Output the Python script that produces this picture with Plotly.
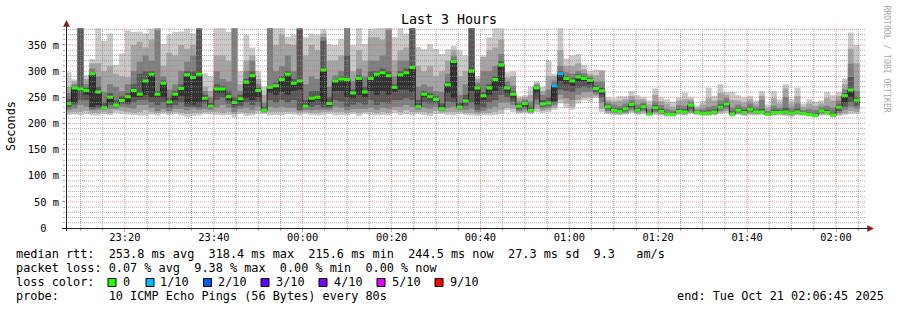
import datetime as dt
import plotly.graph_objects as go

# ---------------- data ----------------
median = [
    238, 268, 266, 263, 295, 260, 230, 250, 235, 244,
    251, 263, 256, 281, 294, 256, 277, 241, 256, 267,
    293, 288, 294, 248, 233, 266, 266, 251, 240, 247,
    279, 291, 263, 225, 269, 272, 284, 294, 277, 281,
    233, 248, 250, 302, 238, 281, 285, 284, 258, 286,
    260, 286, 294, 297, 291, 269, 293, 297, 307, 232,
    256, 251, 246, 228, 274, 318.4, 231, 243, 300, 268,
    253, 268, 284, 312, 268, 256, 233, 238, 225, 268,
    237, 239, 272, 295, 286, 281, 289, 286, 282, 267,
    262, 232, 225, 223, 228, 236, 225, 232, 218, 230,
    223, 218, 217, 223, 222, 235, 221, 219, 220, 222,
    231, 237, 218, 225, 221, 227, 222, 222, 217, 221,
    221, 222, 220, 222, 219, 217, 215.6, 224, 221, 216,
    231, 253, 264, 244.5,
]

loss = [
    0, 0, 0, 0, 0, 0, 0, 0, 0, 0,
    0, 0, 0, 0, 0, 0, 0, 0, 0, 0,
    0, 0, 0, 0, 0, 0, 0, 0, 0, 0,
    0, 0, 0, 0, 0, 0, 0, 0, 0, 0,
    0, 0, 0, 0, 0, 0, 0, 0, 0, 0,
    0, 0, 0, 0, 0, 0, 0, 0, 0, 0,
    0, 0, 0, 0, 0, 0, 0, 0, 0, 0,
    0, 0, 0, 0, 0, 0, 0, 0, 0, 0,
    0, 0, 1, 1, 0, 0, 0, 0, 0, 0,
    0, 0, 0, 0, 0, 0, 0, 0, 0, 0,
    0, 0, 0, 0, 0, 0, 0, 0, 0, 0,
    0, 0, 0, 0, 0, 0, 0, 0, 0, 0,
    0, 0, 0, 0, 0, 0, 0, 0, 0, 0,
    0, 0, 0, 0,
]

# sorted ping values (ping 1 = fastest ... ping 10 = slowest), ms
p1 = [
    216, 217, 216, 218, 215, 215, 218, 216, 220, 218,
    217, 216, 215, 215, 217, 215, 218, 216, 218, 215,
    213, 214, 215, 218, 217, 216, 215, 216, 212, 218,
    214, 215, 218, 218, 215, 216, 215, 218, 217, 215,
    218, 216, 215, 216, 218, 215, 216, 215, 218, 214,
    218, 216, 215, 216, 215, 220, 216, 218, 215, 218,
    216, 214, 218, 218, 216, 215, 218, 216, 215, 214,
    216, 215, 216, 218, 225, 222, 219, 220, 218, 222,
    220, 222, 226, 238, 230, 226, 238, 244, 242, 248,
    222, 218, 216, 216, 217, 220, 216, 218, 214, 216,
    215, 213, 213, 216, 215, 218, 216, 214, 214, 215,
    218, 220, 213, 216, 214, 215, 215, 216, 214, 214,
    215, 214, 213, 215, 214, 213, 212, 215, 215, 212,
    214, 216, 218, 218,
]
p2 = [
    221, 222, 222, 224, 220, 220, 222, 220, 225, 224,
    222, 220, 222, 225, 222, 220, 222, 220, 222, 220,
    218, 220, 220, 222, 222, 222, 220, 222, 218, 222,
    220, 220, 224, 220, 222, 222, 222, 222, 222, 220,
    222, 220, 220, 222, 222, 222, 222, 220, 222, 220,
    222, 222, 220, 222, 220, 225, 222, 225, 222, 222,
    222, 220, 224, 221, 222, 222, 222, 220, 220, 218,
    220, 220, 222, 225, 230, 228, 221, 222, 220, 228,
    224, 226, 230, 245, 238, 232, 245, 250, 250, 252,
    228, 220, 219, 218, 219, 223, 219, 221, 216, 219,
    217, 215, 215, 218, 217, 220, 218, 216, 216, 217,
    221, 224, 215, 218, 216, 218, 217, 218, 215, 216,
    217, 216, 215, 217, 216, 214, 213, 217, 217, 213,
    217, 220, 224, 222,
]
p3 = [
    226, 228, 235, 232, 225, 226, 226, 228, 228, 232,
    230, 228, 235, 235, 230, 224, 228, 224, 228, 228,
    225, 228, 226, 228, 226, 230, 235, 230, 222, 228,
    230, 226, 232, 222, 232, 230, 232, 230, 230, 224,
    226, 225, 226, 226, 226, 232, 230, 225, 228, 228,
    228, 230, 226, 230, 228, 232, 232, 235, 232, 226,
    230, 228, 232, 224, 230, 232, 226, 226, 228, 222,
    224, 228, 232, 240, 240, 235, 224, 226, 222, 236,
    228, 230, 235, 255, 248, 245, 255, 260, 260, 256,
    240, 224, 221, 220, 221, 226, 221, 224, 217, 222,
    219, 216, 216, 220, 219, 223, 219, 217, 218, 219,
    224, 228, 216, 220, 218, 221, 219, 220, 216, 218,
    219, 218, 217, 219, 217, 215, 214, 219, 219, 214,
    220, 226, 232, 228,
]
p4 = [
    232, 236, 245, 245, 228, 230, 228, 235, 231, 238,
    236, 240, 245, 245, 240, 235, 240, 230, 235, 240,
    232, 232, 230, 238, 229, 245, 250, 238, 230, 234,
    240, 235, 240, 223, 245, 240, 245, 240, 245, 226,
    229, 232, 235, 230, 230, 245, 242, 232, 236, 240,
    236, 245, 235, 240, 238, 245, 245, 248, 245, 229,
    240, 238, 238, 226, 242, 240, 229, 234, 240, 226,
    230, 240, 245, 255, 250, 242, 227, 230, 223, 246,
    232, 234, 240, 265, 262, 260, 268, 270, 268, 260,
    250, 227, 223, 221, 224, 230, 223, 227, 218, 225,
    221, 217, 216, 221, 220, 227, 220, 218, 219, 221,
    227, 232, 217, 222, 220, 224, 221, 221, 216, 220,
    220, 220, 219, 221, 218, 216, 215, 221, 220, 215,
    224, 232, 240, 234,
]
p5 = [
    236, 240, 262, 255, 232, 235, 229, 240, 233, 240,
    240, 250, 250, 255, 250, 250, 250, 236, 245, 252,
    238, 236, 240, 244, 231, 258, 258, 245, 236, 240,
    248, 245, 250, 224, 258, 255, 260, 255, 262, 265,
    231, 240, 245, 238, 234, 262, 262, 250, 248, 255,
    250, 262, 255, 262, 255, 260, 265, 265, 260, 231,
    250, 246, 242, 227, 258, 248, 230, 240, 262, 236,
    245, 255, 262, 270, 258, 248, 230, 234, 224, 258,
    235, 237, 243, 280, 276, 272, 280, 280, 276, 264,
    256, 230, 224, 222, 226, 233, 224, 230, 218, 228,
    222, 218, 217, 222, 221, 232, 221, 219, 220, 222,
    229, 235, 218, 224, 221, 226, 222, 222, 217, 221,
    221, 221, 220, 222, 219, 217, 215.6, 223, 221, 216,
    228, 240, 250, 240,
]
p6 = [
    240, 268, 266, 263, 294, 260, 231, 250, 236, 245,
    251, 263, 256, 281, 294, 256, 277, 241, 256, 267,
    293, 288, 294, 248, 233, 266, 266, 251, 240, 247,
    279, 291, 263, 226, 269, 272, 284, 294, 277, 281,
    234, 248, 250, 302, 238, 281, 285, 284, 258, 286,
    260, 286, 294, 297, 291, 269, 293, 297, 307, 233,
    256, 251, 246, 229, 274, 318, 232, 243, 300, 268,
    253, 268, 284, 312, 268, 256, 233, 238, 226, 268,
    238, 240, 272, 295, 286, 281, 289, 286, 282, 267,
    262, 232, 226, 224, 228, 236, 226, 232, 219, 230,
    224, 219, 218, 224, 223, 235, 222, 220, 221, 223,
    231, 237, 219, 226, 222, 228, 223, 223, 218, 222,
    222, 223, 221, 223, 220, 218, 217, 225, 222, 217,
    231, 253, 264, 244.5,
]
p7 = [
    247, 271, 382, 268, 298, 270, 240, 258, 245, 252,
    258, 275, 295, 300, 300, 262, 282, 250, 262, 275,
    300, 300, 380, 255, 240, 275, 272, 262, 250, 255,
    285, 300, 268, 232, 272, 278, 290, 300, 285, 380,
    245, 262, 262, 358, 250, 285, 290, 330, 265, 292,
    270, 300, 300, 305, 300, 275, 300, 305, 382, 245,
    262, 258, 252, 238, 280, 322, 240, 255, 382, 272,
    260, 275, 290, 320, 272, 262, 237, 242, 232, 271,
    245, 250, 276, 300, 290, 286, 294, 290, 286, 272,
    268, 236, 230, 228, 232, 240, 230, 236, 222, 235,
    228, 222, 221, 228, 227, 238, 224, 223, 225, 227,
    236, 242, 223, 230, 226, 232, 226, 228, 220, 226,
    225, 230, 224, 228, 222, 221, 220, 228, 226, 221,
    236, 258, 289, 250,
]
p8 = [
    258, 275, 382, 275, 305, 290, 260, 275, 270, 262,
    275, 300, 318, 330, 320, 378, 290, 265, 275, 300,
    318, 330, 382, 262, 250, 300, 285, 280, 382, 262,
    300, 320, 275, 240, 382, 300, 310, 330, 300, 382,
    275, 290, 285, 365, 270, 292, 300, 382, 280, 305,
    290, 320, 320, 330, 378, 290, 320, 320, 382, 270,
    275, 270, 262, 260, 295, 330, 255, 275, 382, 278,
    300, 300, 310, 333, 280, 272, 242, 246, 242, 274,
    255, 265, 282, 310, 298, 295, 300, 296, 290, 280,
    280, 240, 236, 234, 238, 245, 236, 240, 228, 242,
    235, 228, 225, 235, 234, 242, 226, 228, 232, 234,
    244, 248, 230, 236, 232, 238, 232, 245, 224, 234,
    230, 250, 230, 238, 226, 228, 226, 232, 234, 230,
    244, 265, 314, 262,
]
p9 = [
    270, 279, 382, 285, 315, 315, 300, 310, 295, 290,
    289, 350, 356, 345, 360, 382, 310, 335, 330, 350,
    343, 350, 382, 270, 262, 330, 330, 320, 382, 275,
    320, 330, 285, 255, 382, 350, 370, 352, 350, 382,
    330, 350, 340, 372, 320, 320, 330, 382, 300, 340,
    320, 365, 365, 360, 382, 320, 340, 345, 382, 310,
    300, 310, 290, 300, 320, 340, 290, 300, 382, 285,
    327, 340, 345, 360, 288, 290, 248, 250, 255, 277,
    262, 290, 290, 340, 310, 310, 315, 303, 294, 292,
    300, 245, 242, 244, 246, 252, 246, 246, 236, 255,
    243, 238, 232, 244, 246, 246, 230, 236, 248, 244,
    258, 255, 245, 244, 240, 246, 238, 253, 230, 248,
    238, 267, 238, 252, 232, 238, 234, 238, 248, 244,
    252, 275, 343, 315,
]
p10 = [
    298, 284, 382, 292, 323, 382, 358, 372, 312, 334,
    378, 375, 376, 372, 381, 382, 352, 370, 375, 376,
    381, 372, 382, 296, 290, 382, 382, 375, 382, 300,
    370, 345, 300, 270, 382, 382, 382, 366, 370, 382,
    365, 372, 370, 380, 352, 350, 362, 382, 350, 382,
    352, 380, 382, 382, 382, 365, 382, 372, 382, 346,
    342, 352, 342, 333, 342, 348, 340, 330, 382, 290,
    330, 365, 382, 382, 298, 300, 252, 254, 270, 280,
    270, 320, 295, 382, 324, 330, 333, 312, 300, 303,
    302, 250, 248, 252, 252, 262, 254, 250, 244, 267,
    250, 246, 242, 250, 259, 250, 234, 244, 268, 253,
    275, 260, 260, 254, 250, 253, 244, 262, 236, 262,
    246, 275, 246, 268, 238, 246, 242, 244, 260, 254,
    260, 286, 374, 350,
]

y_ticks = [0, 50, 100, 150, 200, 250, 300, 350]
y_tick_text = ["0\u00a0\u00a0", "50 m", "100 m", "150 m", "200 m", "250 m", "300 m", "350 m"]

legend_rtt = "median rtt:  253.8 ms avg  318.4 ms max  215.6 ms min  244.5 ms now  27.3 ms sd  9.3   am/s"
legend_loss = "packet loss: 0.07 % avg  9.38 % max  0.00 % min  0.00 % now"
legend_probe = "probe:       10 ICMP Echo Pings (56 Bytes) every 80s"
legend_end = "end: Tue Oct 21 02:06:45 2025"
loss_levels = [0, 1, 2, 3, 4, 5, 9]
loss_labels = ["0", "1/10", "2/10", "3/10", "4/10", "5/10", "9/10"]
loss_colors = ["#26ff00", "#00b8ff", "#0059ff", "#5e00ff", "#7e00ff", "#dd00ff", "#ff0000"]

# ---------------- geometry ----------------
W, H = 897, 310
L, R, T, B = 66, 31, 28, 82
PW, PH = W - L - R, H - T - B
Y_MAX = 382.5
t_start = dt.datetime(2025, 10, 20, 23, 6, 45)
t_end = dt.datetime(2025, 10, 21, 2, 6, 45)
t_first = dt.datetime(2025, 10, 20, 23, 6, 40)
step = dt.timedelta(seconds=80)
n = len(median)
edges = [t_first + i * step for i in range(n + 1)]

MONO = "DejaVu Sans Mono"


def fx(px):
    return (px - L) / PW


def fy(py):
    return (H - B - py) / PH


def stepy(v):
    return list(v) + [v[-1]]


fig = go.Figure()

# smoke
layers = [(p1, p10, "#cacaca"), (p2, p9, "#a4a4a4"), (p3, p8, "#7e7e7e"),
          (p4, p7, "#585858"), (p5, p6, "#323232")]
for lo, hi, col in layers:
    fig.add_trace(go.Scatter(x=edges, y=stepy(lo), mode="lines",
                             line=dict(width=0, shape="hv"), hoverinfo="skip", showlegend=False))
    fig.add_trace(go.Scatter(x=edges, y=stepy(hi), mode="lines",
                             line=dict(width=0, shape="hv"), fill="tonexty", fillcolor=col,
                             hoverinfo="skip", showlegend=False))

# median line
fig.add_trace(go.Scatter(x=edges, y=stepy(median), mode="lines",
                         line=dict(width=1, color="#202020", shape="hv"),
                         hoverinfo="skip", showlegend=False))

# loss-coloured median bands
band = 2.9
i = 0
while i < n:
    j = i
    while j + 1 < n and loss[j + 1] == loss[i]:
        j += 1
    xs = edges[i:j + 2]
    m = median[i:j + 1]
    col = loss_colors[loss_levels.index(loss[i])]
    fig.add_trace(go.Scatter(x=xs, y=stepy([v - band for v in m]), mode="lines",
                             line=dict(width=0, shape="hv"), hoverinfo="skip", showlegend=False))
    fig.add_trace(go.Scatter(x=xs, y=stepy([v + band for v in m]), mode="lines",
                             line=dict(width=0, shape="hv"), fill="tonexty", fillcolor=col,
                             hoverinfo="skip", showlegend=False))
    i = j + 1

shapes = []
MINOR = "rgba(143,143,143,0.75)"
MAJOR = "rgba(222,79,79,0.6)"
# horizontal grid
for v in range(10, int(Y_MAX) + 1, 10):
    shapes.append(dict(type="line", xref="paper", yref="y", x0=0, x1=1, y0=v, y1=v,
                       line=dict(color=MAJOR if v % 50 == 0 else MINOR, width=1, dash="1px,1px"),
                       layer="above"))
# vertical grid
g = dt.datetime(2025, 10, 20, 23, 10)
while g < t_end:
    major = (g.minute % 20 == 0)
    shapes.append(dict(type="line", xref="x", yref="paper", x0=g, x1=g, y0=0, y1=1,
                       line=dict(color=MAJOR if major else MINOR, width=1, dash="1px,1px"),
                       layer="above"))
    g += dt.timedelta(minutes=5)

AX = "#1f1f1f"
ARROW = "#801f1f"
# axis lines
shapes.append(dict(type="line", xref="paper", yref="paper", x0=fx(62), x1=fx(870),
                   y0=fy(228.5), y1=fy(228.5), line=dict(color=AX, width=1), layer="above"))
shapes.append(dict(type="line", xref="paper", yref="paper", x0=fx(66.5), x1=fx(66.5),
                   y0=fy(231), y1=fy(24), line=dict(color=AX, width=1), layer="above"))
# arrows
shapes.append(dict(type="path", xref="paper", yref="paper",
                   path=f"M {fx(63.5)} {fy(26.5)} L {fx(69.5)} {fy(26.5)} L {fx(66.5)} {fy(20.5)} Z",
                   fillcolor=ARROW, line=dict(color=ARROW, width=0.5), layer="above"))
shapes.append(dict(type="path", xref="paper", yref="paper",
                   path=f"M {fx(867.5)} {fy(225.5)} L {fx(867.5)} {fy(231.5)} L {fx(873.5)} {fy(228.5)} Z",
                   fillcolor=ARROW, line=dict(color=ARROW, width=0.5), layer="above"))

# legend colour boxes
box_x = [108, 146, 203.5, 261, 319, 377, 435]
lab_x = [122, 159, 217, 275, 333, 391, 449]
for bx, c in zip(box_x, loss_colors):
    shapes.append(dict(type="rect", xref="paper", yref="paper", x0=fx(bx), x1=fx(bx + 8),
                       y0=fy(286.5), y1=fy(278.5), fillcolor=c, line=dict(color="#000000", width=1)))

nb = lambda s: s.replace(" ", "\u00a0")
ann = []


def text(px, py, s, size, anchor="left", color="#000000", angle=0):
    ann.append(dict(xref="paper", yref="paper", x=fx(px), y=fy(py), text=nb(s), showarrow=False,
                    xanchor=anchor, yanchor="middle", textangle=angle, borderpad=0,
                    font=dict(family=MONO, size=size, color=color)))


LEG = 11.85
text(448.5, 19, "Last 3 Hours", 13.3, anchor="center")
text(11, 126, "Seconds", LEG, anchor="center", angle=-90)
text(886.5, 59, "RRDTOOL / TOBI OETIKER", 8.1, anchor="center", color="#a8a8a8", angle=90)
text(15, 254.3, legend_rtt, LEG)
text(15, 268.3, legend_loss, LEG)
text(15, 282.3, "loss color:", LEG)
for lx, lab in zip(lab_x, loss_labels):
    text(lx, 282.3, lab, LEG)
text(15, 296.3, legend_probe, LEG)
text(676, 296.3, legend_end, LEG)

fig.update_layout(
    width=W, height=H, autosize=False,
    margin=dict(l=L, r=R, t=T, b=B, pad=0),
    paper_bgcolor="#ffffff", plot_bgcolor="#ffffff",
    showlegend=False, hovermode=False,
    shapes=shapes, annotations=ann,
    font=dict(family=MONO, color="#000000"),
    xaxis=dict(type="date", range=[t_start, t_end], showgrid=False, zeroline=False, showline=False,
               tick0=dt.datetime(2025, 10, 20, 23, 20), dtick=20 * 60 * 1000, tickformat="%H:%M",
               ticks="outside", ticklen=3, tickcolor=MAJOR, tickwidth=1, ticklabelstandoff=-3,
               minor=dict(dtick=5 * 60 * 1000, ticks="outside", ticklen=2, tickcolor=MINOR, showgrid=False),
               tickfont=dict(family=MONO, size=10.4, color="#000000"), fixedrange=True),
    yaxis=dict(range=[0, Y_MAX], showgrid=False, zeroline=False, showline=False,
               tickmode="array", tickvals=y_ticks, ticktext=y_tick_text,
               ticks="outside", ticklen=3, tickcolor=MAJOR, tickwidth=1, ticklabelstandoff=1,
               minor=dict(dtick=10, ticks="outside", ticklen=2, tickcolor=MINOR, showgrid=False),
               tickfont=dict(family=MONO, size=10.4, color="#000000"), fixedrange=True),
)

fig.write_html("out.html")
